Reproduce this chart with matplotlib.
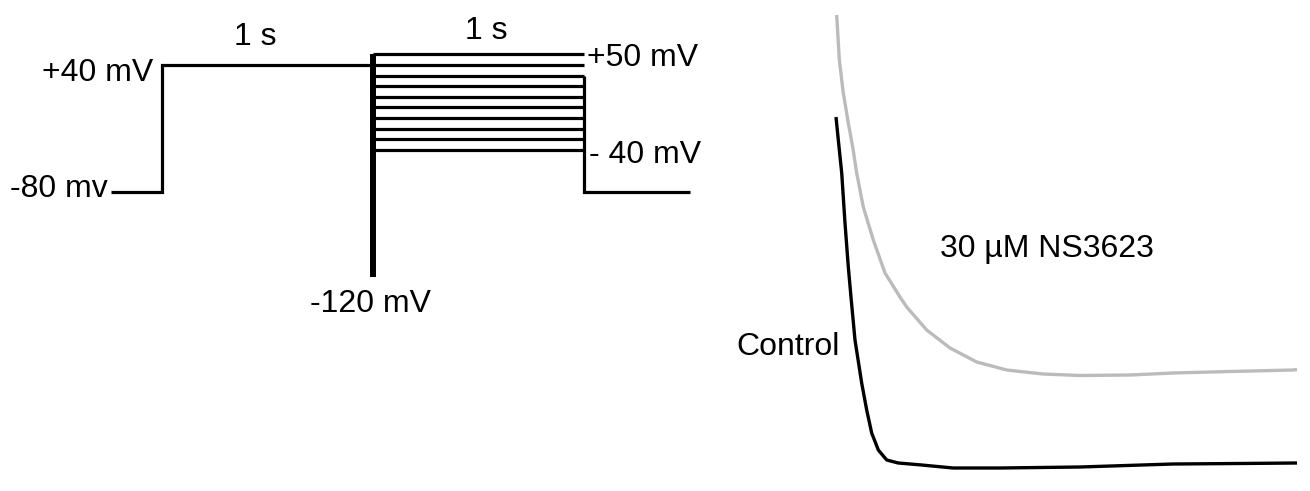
import matplotlib
matplotlib.use("Agg")
import matplotlib.pyplot as plt

plt.rcParams['font.family'] = ['Liberation Sans', 'DejaVu Sans']

# ---------------- data: voltage protocol ----------------
holding_mV = -80
prepulse_mV = 40
test_steps_mV = [50, 40, 30, 20, 10, 0, -10, -20, -30, -40]
hyperpol_mV = -120          # labelled value of the brief hyperpolarising step
hyperpol_drawn = -160       # depth at which the (not-to-scale) schematic draws it
t_hold_start = -0.24        # s
t_pre_start = 0.0           # s
t_test_start = 1.0          # s
t_test_end = 2.0            # s
t_tail_end = 2.5            # s

# ---------------- data: current traces (ms, nA) ----------------
ns3623_t = [1.5, 7.2, 15.8, 26.7, 36.2, 44.9, 59.2, 80.9, 106.3, 138.8, 153.4,
            196.7, 247.3, 305.2, 370.3, 449.0, 529.3, 637.8, 731.0, 854.7, 991.3, 1000]
ns3623_nA = [4.55, 4.10, 3.77, 3.47, 3.23, 2.97, 2.63, 2.30, 1.97, 1.73, 1.63,
             1.40, 1.22, 1.08, 1.00, 0.96, 0.945, 0.95, 0.97, 0.985, 1.00, 1.005]
control_t = [0, 5.0, 12.4, 19.5, 26.7, 32.5, 41.2, 55.7, 66.6, 77.4, 91.8, 110.0,
             135.1, 185.9, 253.8, 355.7, 529.3, 731.0, 876.4, 1000]
control_nA = [3.53, 3.30, 2.97, 2.47, 2.03, 1.73, 1.30, 0.87, 0.60, 0.37, 0.20, 0.10,
              0.07, 0.05, 0.02, 0.02, 0.03, 0.06, 0.065, 0.07]

W, H = 1310, 491
fig = plt.figure(figsize=(W / 100, H / 100), dpi=100)

# ---------- left: protocol ----------
ax = fig.add_axes([0, 0, 1, 1])
ax.set_xlim((0 - 162) / 211, (W - 162) / 211)
ax.set_ylim(-80 - (H - 192) / 1.0583, -80 + 192 / 1.0583)
ax.axis('off')

lw_h = 2.3
k = 'black'
ax.plot([t_hold_start, t_pre_start, t_pre_start, t_test_start],
        [holding_mV, holding_mV, prepulse_mV, prepulse_mV],
        color=k, lw=lw_h, solid_joinstyle='miter', solid_capstyle='butt')
for v in test_steps_mV:
    ax.plot([t_test_start, t_test_end], [v, v], color=k, lw=lw_h,
            solid_capstyle='butt')
ax.plot([t_test_start, t_test_start], [max(test_steps_mV), hyperpol_drawn],
        color=k, lw=4.3, solid_capstyle='butt')
ax.plot([t_test_end, t_test_end, t_tail_end],
        [test_steps_mV[2], holding_mV, holding_mV],
        color=k, lw=lw_h, solid_joinstyle='miter', solid_capstyle='butt')

fs = 23
ax.text((t_pre_start + t_test_start) / 2 - 0.06, 52, '1 s', fontsize=fs,
        ha='center', va='bottom')
ax.text((t_test_start + t_test_end) / 2 + 0.035, 58, '1 s', fontsize=fs,
        ha='center', va='bottom')
ax.text(t_pre_start - 0.04, prepulse_mV - 8, '+40 mV', fontsize=fs,
        ha='right', va='center')
ax.text(t_hold_start - 0.015, holding_mV + 3, '-80 mv', fontsize=fs,
        ha='right', va='center')
ax.text(t_test_start - 0.01, hyperpol_drawn - 12, '-120 mV', fontsize=fs,
        ha='center', va='top')
ax.text(t_test_end + 0.015, max(test_steps_mV) - 3, '+50 mV', fontsize=fs,
        ha='left', va='center')
ax.text(t_test_end + 0.025, min(test_steps_mV) - 5, '- 40 mV', fontsize=fs,
        ha='left', va='center')

# ---------- right: current traces ----------
ax2 = fig.add_axes([0, 0, 1, 1])
ax2.patch.set_alpha(0)
sx = 1000 / 461
ax2.set_xlim((0 - 836) * sx, (W - 836) * sx)
ax2.set_ylim((470 - H) / 100, 470 / 100)
ax2.axis('off')

ax2.plot(ns3623_t, ns3623_nA, color='#bbbbbb', lw=2.4, solid_capstyle='butt',
         solid_joinstyle='round')
ax2.plot(control_t, control_nA, color='black', lw=2.4, solid_capstyle='butt',
         solid_joinstyle='round')

ax2.text((1047 - 836) * sx, (470 - 249) / 100, '30 \u00b5M NS3623', fontsize=fs,
         ha='center', va='center')
ax2.text((840 - 836) * sx, (470 - 347) / 100, 'Control', fontsize=fs,
         ha='right', va='center')

fig.savefig('out.png', dpi=100)
